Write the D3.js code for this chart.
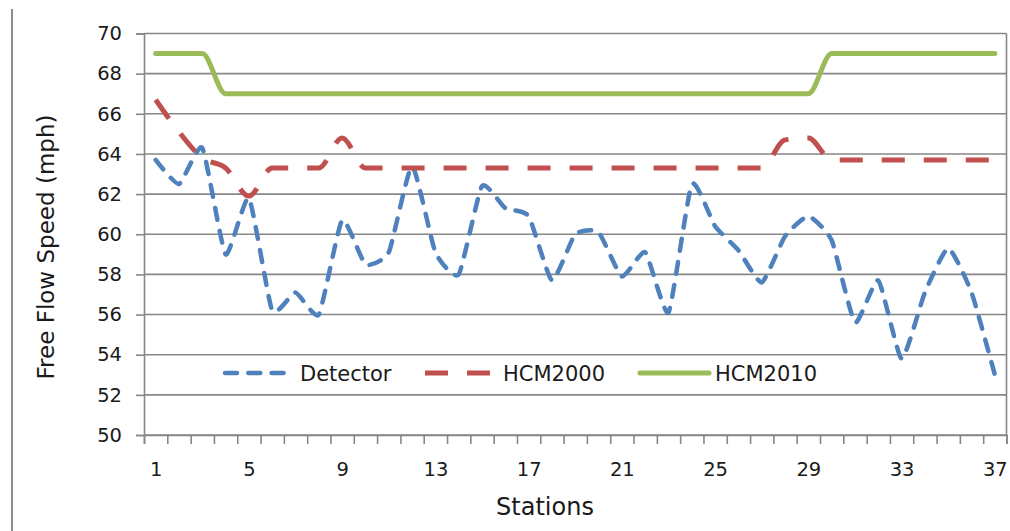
<!DOCTYPE html>
<html>
<head>
<meta charset="utf-8">
<script src="https://cdn.jsdelivr.net/npm/d3@7"></script>
<style>
  html, body { margin: 0; padding: 0; background: #fff; }
  svg { display: block; }
  text { font-family: "DejaVu Sans", sans-serif; fill: #1a1a1a; }
</style>
</head>
<body>
<svg id="chart" width="1010" height="531"></svg>
<script>
// ---- data ----
const stations = [1,2,3,4,5,6,7,8,9,10,11,12,13,14,15,16,17,18,19,20,21,22,23,24,25,26,27,28,29,30,31,32,33,34,35,36,37];
const detector = [63.7, 62.5, 64.3, 59.0, 61.8, 56.2, 57.1, 56.0, 60.7, 58.5,
                  59.1, 63.4, 59.1, 58.0, 62.4, 61.3, 60.9, 57.7, 60.0, 60.1,
                  57.9, 59.1, 56.1, 62.5, 60.4, 59.2, 57.6, 59.9, 60.9, 59.7,
                  55.6, 57.7, 53.8, 57.1, 59.3, 57.1, 53.0];
const hcm2000 = [66.7, 65.1, 63.8, 63.3, 61.9, 63.3, 63.3, 63.3, 64.8, 63.3,
                 63.3, 63.3, 63.3, 63.3, 63.3, 63.3, 63.3, 63.3, 63.3, 63.3,
                 63.3, 63.3, 63.3, 63.3, 63.3, 63.3, 63.3, 64.7, 64.8, 63.7,
                 63.7, 63.7, 63.7, 63.7, 63.7, 63.7, 63.7];
const hcm2010 = [69, 69, 69, 67, 67, 67, 67, 67, 67, 67,
                 67, 67, 67, 67, 67, 67, 67, 67, 67, 67,
                 67, 67, 67, 67, 67, 67, 67, 67, 67, 69,
                 69, 69, 69, 69, 69, 69, 69];
const yTicks = [50, 52, 54, 56, 58, 60, 62, 64, 66, 68, 70];
const xLabelTicks = [1, 5, 9, 13, 17, 21, 25, 29, 33, 37];
const seriesNames = ["Detector", "HCM2000", "HCM2010"];
const seriesColors = ["#4F81BD", "#C0504D", "#9BBB59"];

// ---- layout ----
const svg = d3.select("#chart");
const plotL = 144, plotR = 1006.5, plotT = 33.5, plotB = 435;
const gridColor = "#878787";

const x = d3.scaleLinear().domain([0.5, 37.5]).range([plotL, plotR]);
const y = d3.scaleLinear().domain([50, 70]).range([plotB, plotT]);

// outer chart border (left side)
svg.append("line").attr("x1", 12).attr("x2", 12).attr("y1", 9).attr("y2", 531)
   .attr("stroke", "#8c8c8c").attr("stroke-width", 2);

// gridlines
svg.append("g").selectAll("line").data(yTicks).join("line")
   .attr("x1", plotL).attr("x2", plotR)
   .attr("y1", d => y(d)).attr("y2", d => y(d))
   .attr("stroke", gridColor).attr("stroke-width", 1.6);

// right border of plot area
svg.append("line").attr("x1", plotR).attr("x2", plotR).attr("y1", y(70)).attr("y2", y(50))
   .attr("stroke", gridColor).attr("stroke-width", 1.6);

// y axis
const yAxis = svg.append("g").attr("transform", `translate(${plotL},0)`)
   .call(d3.axisLeft(y).tickValues(yTicks).tickSize(8).tickPadding(14).tickFormat(d3.format("d")));
yAxis.select(".domain").attr("stroke", gridColor).attr("stroke-width", 1.6);
yAxis.selectAll(".tick line").attr("stroke", gridColor).attr("stroke-width", 1.6);
yAxis.selectAll(".tick text").attr("font-size", 19.5).attr("fill", "#1a1a1a")
   .attr("font-family", "DejaVu Sans, sans-serif");

// x axis: tick marks at category boundaries
const boundaries = stations.map(s => s - 0.5).concat([stations[stations.length - 1] + 0.5]);
const xAxis = svg.append("g").attr("transform", `translate(0,${plotB})`)
   .call(d3.axisBottom(x).tickValues(boundaries).tickSize(9).tickFormat(""));
xAxis.select(".domain").attr("stroke", gridColor).attr("stroke-width", 1.6);
xAxis.selectAll(".tick line").attr("stroke", gridColor).attr("stroke-width", 1.6);

// x labels
const xLab = svg.append("g").attr("transform", `translate(0,${plotB})`)
   .call(d3.axisBottom(x).tickValues(xLabelTicks).tickSize(0).tickPadding(27).tickFormat(d3.format("d")));
xLab.select(".domain").remove();
xLab.selectAll(".tick text").attr("font-size", 19.5).attr("fill", "#1a1a1a")
   .attr("font-family", "DejaVu Sans, sans-serif");

// axis titles
svg.append("text").attr("x", 545).attr("y", 515).attr("text-anchor", "middle")
   .attr("font-size", 24).text("Stations");
svg.append("text").attr("transform", "translate(54,247) rotate(-90)")
   .attr("text-anchor", "middle").attr("font-size", 23).text("Free Flow Speed (mph)");

// lines
const lineSharp = d3.line().x((d, i) => x(stations[i])).y(d => y(d)).curve(d3.curveCardinal.tension(0.5));
const lineFlat = d3.line().x((d, i) => x(stations[i])).y(d => y(d)).curve(d3.curveMonotoneX);
const styles = [
  { data: detector, width: 4.5, dash: "12,11.3", cap: "round", gen: lineSharp },
  { data: hcm2000, width: 5, dash: "23,19", cap: "butt", gen: lineFlat },
  { data: hcm2010, width: 5, dash: null, cap: "round", gen: lineFlat }
];
styles.forEach((s, k) => {
  svg.append("path").datum(s.data).attr("d", s.gen)
     .attr("fill", "none").attr("stroke", seriesColors[k])
     .attr("stroke-width", s.width).attr("stroke-linecap", s.cap)
     .attr("stroke-linejoin", "round")
     .attr("stroke-dasharray", s.dash);
});

// legend
const legendY = 373;
const legendItems = [
  { x1: 225, x2: 287, tx: 300 },
  { x1: 425, x2: 491, tx: 503 },
  { x1: 640, x2: 709, tx: 715 }
];
legendItems.forEach((it, k) => {
  svg.append("line").attr("x1", it.x1).attr("x2", it.x2).attr("y1", legendY).attr("y2", legendY)
     .attr("stroke", seriesColors[k]).attr("stroke-width", styles[k].width)
     .attr("stroke-linecap", styles[k].cap).attr("stroke-dasharray", styles[k].dash);
  svg.append("text").attr("x", it.tx).attr("y", legendY + 8).attr("font-size", 21)
     .text(seriesNames[k]);
});
</script>
</body>
</html>
